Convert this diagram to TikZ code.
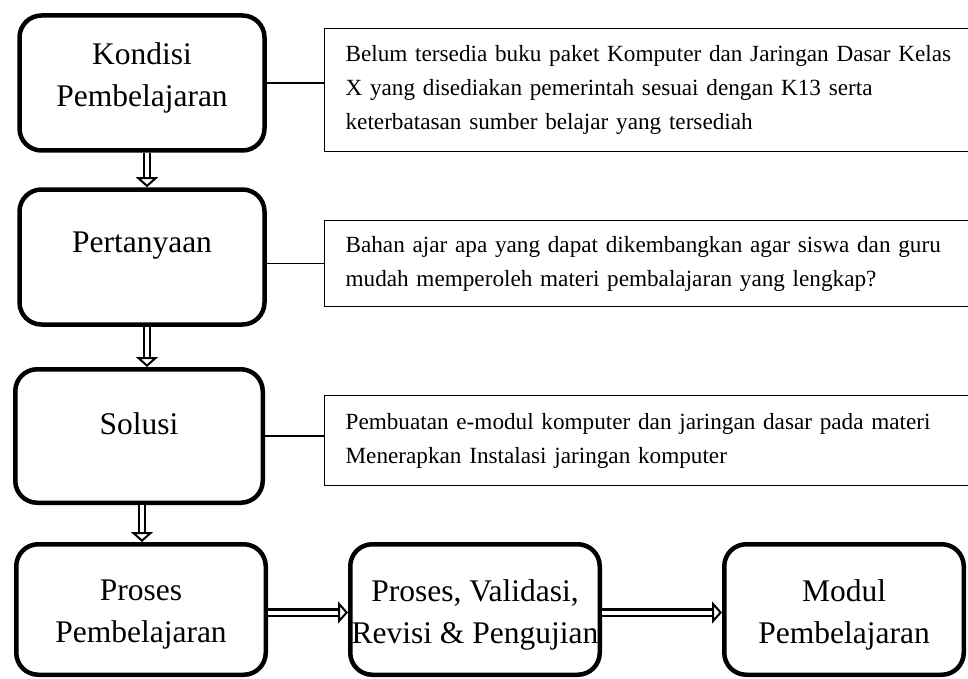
\documentclass[tikz,border=0pt]{standalone}
\usepackage{fontspec}
\setmainfont{Liberation Serif}
\usetikzlibrary{arrows.meta,positioning}

\begin{document}
\begin{tikzpicture}[x=1pt,y=-1pt,
  blok/.style={draw, line width=4.5pt, rounded corners=22pt, minimum width=245pt, minimum height=135pt, inner sep=0pt},
  judul/.style={font=\fontsize{31.5}{42}\selectfont, align=center},
  ket/.style={draw, line width=1.2pt, anchor=west, align=left, inner xsep=21pt, text width=640pt, font=\fontsize{23.2}{34}\selectfont},
  panah/.style={double, double distance=4pt, line width=2.2pt, -{Triangle[open, fill=white, line width=2pt, length=10pt, width=22pt]}}]
\useasboundingbox (0,0) rectangle (968,679);

% kotak utama
\node[blok] (kondisi) at (142,83) {};
\node[blok] (tanya) at (142,257) {};
\node[blok, minimum width=247.5pt, minimum height=133.5pt] (solusi) at (139,436) {};
\node[blok, minimum width=249.5pt, minimum height=130.5pt] (proses) at (141,609.5) {};
\node[blok, minimum width=249.5pt, minimum height=130.5pt] (validasi) at (475,609.5) {};
\node[blok, minimum width=239.5pt, minimum height=130.5pt] (modul) at (844,609.5) {};

\node[judul] (lKondisi) at ([yshift=5pt]kondisi.center) {Kondisi\\Pembelajaran};
\node[judul] (lTanya) at ([yshift=11pt]tanya.center) {Pertanyaan};
\node[judul] (lSolusi) at ([yshift=12pt]solusi.center) {Solusi};
\node[judul] (lProses) at ([yshift=-5pt]proses.center) {Proses\\Pembelajaran};
\node[judul] (lValidasi) at ([yshift=-5pt]validasi.center) {Proses, Validasi,\\Revisi \& Pengujian};
\node[judul] (lModul) at ([yshift=-5pt]modul.center) {Modul\\Pembelajaran};

% keterangan
\node[ket, minimum height=123pt] (ketKondisi) at (324,90) {Belum tersedia buku paket Komputer dan Jaringan Dasar Kelas\\X yang disediakan pemerintah sesuai dengan K13 serta\\keterbatasan sumber belajar yang tersediah\\[-4pt]};
\node[ket, minimum height=86pt] (ketTanya) at (324,263.5) {Bahan ajar apa yang dapat dikembangkan agar siswa dan guru\\mudah memperoleh materi pembalajaran yang lengkap?};
\node[ket, minimum height=90pt] (ketSolusi) at (324,440.5) {Pembuatan e-modul komputer dan jaringan dasar pada materi\\Menerapkan Instalasi jaringan komputer};

\draw[line width=1.3pt] (kondisi.east) -- (kondisi.east -| ketKondisi.west);
\draw[line width=1.3pt] (ketTanya.west -| tanya.east) -- (ketTanya.west);
\draw[line width=1.3pt] (solusi.east) -- (solusi.east -| ketSolusi.west);

% panah
\draw[panah] ([xshift=5pt]kondisi.south) -- ([xshift=5pt]tanya.north);
\draw[panah] ([xshift=5pt]tanya.south) -- ([xshift=5pt]tanya.south |- solusi.north);
\draw[panah] ([xshift=3pt]solusi.south) -- ([xshift=3pt]solusi.south |- proses.north);
\draw[panah] ([yshift=-3pt]proses.east) -- ([yshift=-3pt]proses.east -| validasi.west);
\draw[panah] ([yshift=-3pt]validasi.east) -- ([yshift=-3pt]validasi.east -| modul.west);

\end{tikzpicture}
\end{document}
